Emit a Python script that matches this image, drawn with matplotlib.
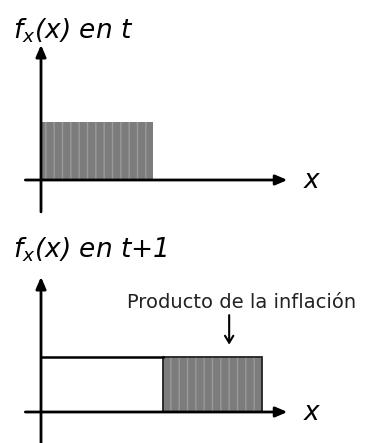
import matplotlib.pyplot as plt
from matplotlib.patches import Rectangle

plt.rcParams['mathtext.fontset'] = 'custom'
plt.rcParams['mathtext.rm'] = 'DejaVu Sans:italic'
plt.rcParams['mathtext.it'] = 'DejaVu Sans:italic'

# distribution in t: uniform on [0, 1]
support_t = [0.0, 1.0]
height_t = 1.0
# distribution in t+1: old part (white) and shift from inflation (gray)
support_old = [0.0, 1.09]
support_new = [1.09, 1.97]
height_t1 = 0.95

titles = [r'$\mathrm{f_x(x)\ en\ t}$', r'$\mathrm{f_x(x)\ en\ t{+}1}$']
note = 'Producto de la inflación'

W, H = 365, 443
fig = plt.figure(figsize=(W / 100, H / 100), dpi=100)

# pixel scale of one data unit
ux, uy = 112.0, 58.0
x0 = 41.0


def make_axes(top_px, bot_px, origin_px):
    ax = fig.add_axes([0, 1 - bot_px / H, 1, (bot_px - top_px) / H])
    ax.set_xlim(-x0 / ux, (W - x0) / ux)
    ax.set_ylim(-(bot_px - origin_px) / uy, (origin_px - top_px) / uy)
    ax.axis('off')
    return ax


def draw_axes(ax, ybot):
    arrow = dict(arrowstyle='-|>,head_length=0.7,head_width=0.3', lw=2, color='black',
                 shrinkA=0, shrinkB=0)
    ax.annotate('', xy=(0, 2.33), xytext=(0, ybot), arrowprops=arrow)
    ax.annotate('', xy=(2.2, 0), xytext=(-0.14, 0), arrowprops=arrow)
    ax.text(2.42, -0.02, r'$\mathrm{x}$', fontsize=19, ha='center', va='center')


ax1 = make_axes(0, 220, 180)
ax1.add_patch(Rectangle((support_t[0], 0), support_t[1] - support_t[0], height_t,
                        facecolor='#7c7c7c', edgecolor='#9a9a9a', hatch='||', lw=0))
draw_axes(ax1, -0.55)
ax1.text(-0.25, 2.58, titles[0], fontsize=19, ha='left', va='center')

ax2 = make_axes(220, 443, 412)
ax2.plot([support_old[0], support_old[1]], [height_t1, height_t1], color='black', lw=1.8)
ax2.add_patch(Rectangle((support_new[0], 0), support_new[1] - support_new[0], height_t1,
                        facecolor='#7c7c7c', edgecolor='#9a9a9a', hatch='||', lw=0))
ax2.add_patch(Rectangle((support_new[0], 0), support_new[1] - support_new[0], height_t1,
                        facecolor='none', edgecolor='#222222', lw=1.3))
draw_axes(ax2, -0.6)
ax2.text(-0.25, 2.8, titles[1], fontsize=19, ha='left', va='center')
ax2.text(1.79, 1.88, note, fontsize=14, ha='center', va='center', color='#222222')
ax2.annotate('', xy=(1.68, 1.16), xytext=(1.68, 1.67),
             arrowprops=dict(arrowstyle='->,head_length=0.5,head_width=0.3', lw=1.5,
                             color='black', shrinkA=0, shrinkB=0))

fig.savefig('out.png', dpi=100, facecolor='white')
